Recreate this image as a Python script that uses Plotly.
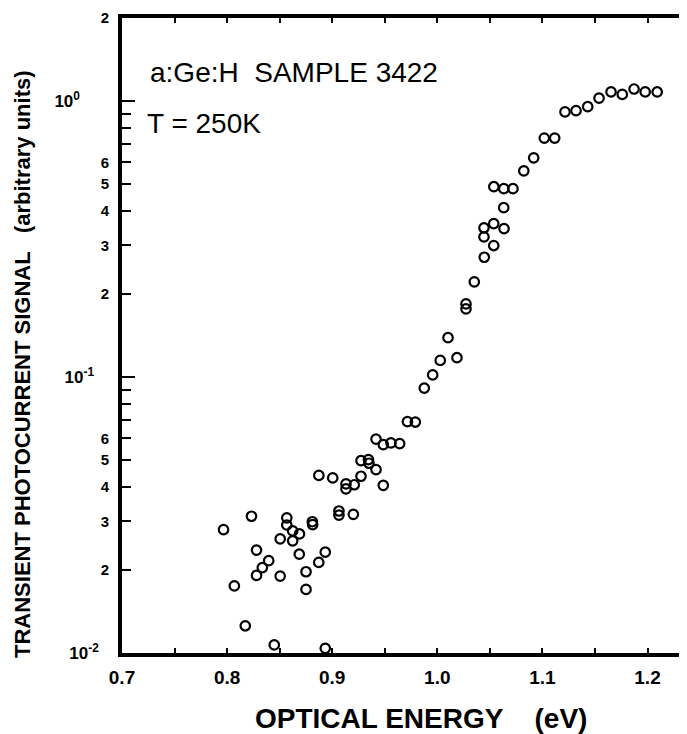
import plotly.graph_objects as go

# Data (optical energy in eV, signal in arbitrary units)
energy = [
    0.7966, 0.8232, 0.8069, 0.8173, 0.8280, 0.8396, 0.8335, 0.8280, 0.8505, 0.8449,
    0.8505, 0.8568, 0.8568, 0.8624, 0.8689, 0.8624, 0.8687, 0.8751, 0.8751, 0.8811,
    0.8814, 0.8872, 0.8934, 0.8934, 0.8873, 0.9005, 0.9064, 0.9064, 0.9201, 0.9131,
    0.9131, 0.9210, 0.9274, 0.9274, 0.9345, 0.9350, 0.9417, 0.9486, 0.9417, 0.9486,
    0.9559, 0.9642, 0.9716, 0.9791, 0.9876, 0.9956, 1.0028, 1.0187, 1.0102, 1.0273,
    1.0273, 1.0352, 1.0447, 1.0537, 1.0444, 1.0444, 1.0537, 1.0635, 1.0632, 1.0538,
    1.0633, 1.0720, 1.0823, 1.0917, 1.1018, 1.1117, 1.1215, 1.1320, 1.1431, 1.1539,
    1.1653, 1.1760, 1.1872, 1.1978, 1.2092,
]
signal = [
    0.0280, 0.0313, 0.0175, 0.01255, 0.0236, 0.0216, 0.0204, 0.0191, 0.0190, 0.0107,
    0.0259, 0.0309, 0.0291, 0.0277, 0.0270, 0.0255, 0.0228, 0.0197, 0.0170, 0.0299,
    0.0292, 0.0213, 0.0232, 0.0104, 0.0440, 0.0431, 0.0327, 0.0316, 0.0318, 0.0410,
    0.0393, 0.0407, 0.0437, 0.0498, 0.0502, 0.0487, 0.0462, 0.0405, 0.0596, 0.0569,
    0.0577, 0.0574, 0.0689, 0.0687, 0.0912, 0.1018, 0.1149, 0.1175, 0.1389, 0.1841,
    0.1767, 0.2213, 0.2717, 0.2996, 0.3219, 0.3474, 0.3597, 0.3451, 0.4110, 0.4894,
    0.4814, 0.4814, 0.5582, 0.6228, 0.7345, 0.7345, 0.9133, 0.9232, 0.9546, 1.0245,
    1.0794, 1.0573, 1.1058, 1.0794, 1.0790,
]

x_tickvals = [0.70, 0.75, 0.80, 0.85, 0.90, 0.95, 1.00, 1.05, 1.10, 1.15, 1.20]
x_ticktext = ["0.7", "", "0.8", "", "0.9", "", "1.0", "", "1.1", "", "1.2"]

y_decade_vals = [0.01, 0.1, 1]
y_decade_text = ["10<sup>-2</sup>", "10<sup>-1</sup>\u00a0", "10<sup>0</sup>" + "\u00a0" * 4]
y_minor_vals = [0.02, 0.03, 0.04, 0.05, 0.06, 0.07, 0.08, 0.09,
                0.2, 0.3, 0.4, 0.5, 0.6, 0.7, 0.8, 0.9, 2]
y_label_vals = [0.02, 0.03, 0.04, 0.05, 0.06, 0.2, 0.3, 0.4, 0.5, 0.6, 2]
y_label_text = ["2", "3", "4", "5", "6", "2", "3", "4", "5", "6", "2"]

FONT = "Liberation Sans, Arial, Helvetica, sans-serif"
OFF = 8  # page body margin offset
W, H = 687 - OFF, 734 - OFF
L, R, T = 122 - OFF, 0, 18 - OFF
B = H - (653 - OFF)
x_range = [0.7, 0.7 + (W - L - R) / 1051.0]
y_range = [-2, 0.30103]

fig = go.Figure()
fig.add_trace(go.Scatter(
    x=energy, y=signal, mode="markers",
    marker=dict(symbol="circle-open", size=9.5, color="black", line=dict(width=2.2, color="black")),
    showlegend=False, hoverinfo="x+y",
))
fig.add_trace(go.Scatter(x=[None], y=[None], yaxis="y2", showlegend=False, hoverinfo="skip"))

fig.update_layout(
    width=W, height=H,
    margin=dict(l=L, r=R, t=T, b=B, pad=0),
    paper_bgcolor="white", plot_bgcolor="white",
    font=dict(family=FONT, color="black"),
    xaxis=dict(
        range=x_range, showgrid=False, zeroline=False,
        showline=True, linewidth=3.5, linecolor="black", mirror="ticks",
        tickmode="array", tickvals=x_tickvals, ticktext=x_ticktext,
        ticks="inside", ticklen=5, tickwidth=1.5, tickcolor="black",
        tickfont=dict(family=FONT, size=19, color="black", weight="bold"),
        ticklabelstandoff=4,
    ),
    yaxis=dict(
        type="log", range=y_range, showgrid=False, zeroline=False,
        showline=True, linewidth=3.5, linecolor="black",
        tickmode="array", tickvals=y_decade_vals, ticktext=y_decade_text,
        ticks="inside", ticklen=13, tickwidth=1.5, tickcolor="black",
        tickfont=dict(family=FONT, size=17, color="black", weight="bold"),
        ticklabelstandoff=16,
        minor=dict(tickmode="array", tickvals=y_minor_vals, ticks="inside",
                   ticklen=9, tickwidth=1.5, tickcolor="black", showgrid=False),
    ),
    yaxis2=dict(
        type="log", range=y_range, overlaying="y", side="left",
        showgrid=False, zeroline=False, showline=False,
        tickmode="array", tickvals=y_label_vals, ticktext=y_label_text,
        ticks="", tickfont=dict(family=FONT, size=15, color="black", weight="bold"),
        ticklabelstandoff=12,
    ),
)

pw = W - L - R
ph = H - T - B

def px_x(px):
    return (px - OFF - L) / pw

def px_y(py):
    return (H - B - (py - OFF)) / ph

fig.add_annotation(
    text="a:Ge:H\u00a0\u00a0SAMPLE 3422", xref="paper", yref="paper",
    x=px_x(148), y=px_y(72), xanchor="left", yanchor="middle", showarrow=False,
    font=dict(family=FONT, size=28, color="black"),
)
fig.add_annotation(
    text="T = 250K", xref="paper", yref="paper",
    x=px_x(145), y=px_y(123), xanchor="left", yanchor="middle", showarrow=False,
    font=dict(family=FONT, size=28, color="black"),
)
fig.add_annotation(
    text="OPTICAL ENERGY\u00a0\u00a0\u00a0\u00a0(eV)", xref="paper", yref="paper",
    x=px_x(421), y=px_y(718), xanchor="center", yanchor="middle", showarrow=False,
    font=dict(family=FONT, size=28, color="black", weight="bold"),
)
fig.add_annotation(
    text="TRANSIENT PHOTOCURRENT SIGNAL\u00a0\u00a0\u00a0(arbitrary units)", xref="paper", yref="paper",
    x=px_x(22), y=px_y(364), xanchor="center", yanchor="middle", showarrow=False,
    textangle=-90,
    font=dict(family=FONT, size=22, color="black", weight="bold"),
)

fig.write_html("out.html")
